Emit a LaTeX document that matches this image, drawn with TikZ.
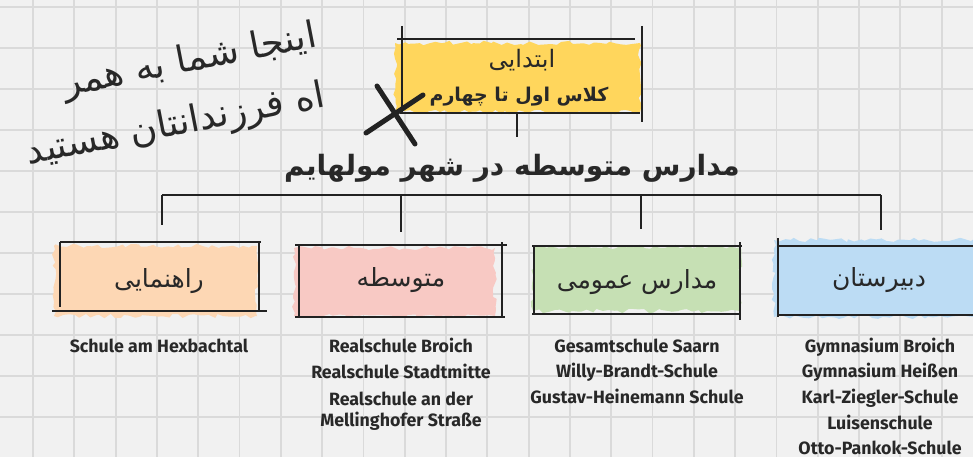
\documentclass[tikz,border=0pt]{standalone}
\usepackage{fontspec}
\usetikzlibrary{decorations.pathmorphing}
\TeXXeTstate=1
\newfontfamily\arabicfont[Script=Arabic]{DejaVu Sans}
\newfontfamily\listfont{Fira Sans}
\definecolor{bgc}{RGB}{241,241,241}
\definecolor{gridc}{RGB}{218,218,218}
\definecolor{inkc}{RGB}{34,34,34}
\definecolor{txt}{RGB}{40,40,40}
\definecolor{ylw}{RGB}{255,214,92}
\definecolor{org}{RGB}{253,215,180}
\definecolor{pnk}{RGB}{248,201,196}
\definecolor{grn}{RGB}{198,224,180}
\definecolor{blu}{RGB}{188,220,244}
\begin{document}
\begin{tikzpicture}[x=1pt,y=-1pt,
  gridline/.style={draw=gridc,line width=1.8pt},
  patch/.style={decorate,decoration={random steps,segment length=5pt,amplitude=2.2pt}},
  ink/.style={draw=inkc,line width=2pt},
  xstroke/.style={draw=inkc,line width=5pt,line cap=round},
  boxlabel/.style={font=\arabicfont\fontsize{25}{29}\selectfont,text=txt,inner sep=0pt},
  hand/.style={font=\arabicfont\fontsize{37}{40}\selectfont,text=txt,inner sep=0pt,rotate=11},
  lst/.style={font=\listfont\bfseries\fontsize{17.8}{20}\selectfont,text=txt,anchor=base,inner sep=0pt}]
\useasboundingbox (0,0) rectangle (973,457);
\fill[bgc] (0,0) rectangle (973,457);
\foreach \i in {0,...,22} \draw[gridline] ({33+41.3*\i},0) -- ({33+41.3*\i},457);
\foreach \j in {0,...,11} \draw[gridline] (0,{7+41*\j}) -- (973,{7+41*\j});
\pgfmathsetseed{7}
% patches
\fill[ylw,patch] (395,43) rectangle (640,112);
\fill[org,patch] (54,246) rectangle (257,316);
\fill[pnk,patch] (294,248) rectangle (495,316);
\fill[grn,patch] (533,247) rectangle (740,311);
\fill[blu,patch] (774,240) rectangle (980,317);
% top box frame
\draw[ink] (397,39) -- (635,39);
\draw[ink] (400,113) -- (640,113);
\draw[ink] (402,26) -- (402,114);
\draw[ink] (642,26) -- (642,122);
% X mark
\draw[xstroke] (377,86) -- (415,144);
\draw[xstroke] (366,133) -- (423,95);
% top box texts
\node[font=\arabicfont\fontsize{24}{28}\selectfont,text=txt,inner sep=0pt] (prim1) at (522,60) {\beginR ابتدایی\endR};
\node[font=\arabicfont\bfseries\fontsize{19}{22}\selectfont,text=txt,inner sep=0pt] (prim2) at (519,97) {\beginR کلاس اول تا چهارم\endR};
\coordinate (ptop) at (517,113);
\coordinate (pbot) at (517,137);
\draw[ink] (ptop) -- (pbot);
% title
\node[font=\arabicfont\bfseries\fontsize{28}{32}\selectfont,text=txt,inner sep=0pt] (title) at (512,168) {\beginR مدارس متوسطه در شهر مولهایم\endR};
% handwritten note
\node[hand] (note1) at (190,62) {\beginR اینجا شما به همر\endR};
\node[hand] (note2) at (176,126) {\beginR اه فرزندانتان هستید\endR};
% tree
\coordinate (barL) at (162,195);
\coordinate (barR) at (881,195);
\draw[ink] (barL) -- (barR);
\coordinate (t1) at (162,195); \coordinate (d1) at (162,225);
\coordinate (t2) at (401,195); \coordinate (d2) at (401,232);
\coordinate (t3) at (641,195); \coordinate (d3) at (641,229);
\coordinate (t4) at (881,195); \coordinate (d4) at (881,230);
\draw[ink] (t1) -- (d1);
\draw[ink] (t2) -- (d2);
\draw[ink] (t3) -- (d3);
\draw[ink] (t4) -- (d4);
% box frames
\draw[ink] (60,242) -- (261,242);
\draw[ink] (60,242) -- (60,307);
\draw[ink] (259,241) -- (259,311);
\draw[ink] (52,311) -- (267,311);
\draw[ink] (295,245) -- (507,245);
\draw[ink] (299,245) -- (299,318);
\draw[ink] (502,242) -- (502,318);
\draw[ink] (295,317) -- (505,317);
\draw[ink] (532,246) -- (742,246);
\draw[ink] (534,246) -- (534,315);
\draw[ink] (740,242) -- (740,320);
\draw[ink] (532,314) -- (740,314);
\draw[ink] (778,238) -- (778,317);
\draw[ink] (778,246) -- (975,246);
\draw[ink] (778,315) -- (975,315);
% box labels
\node[boxlabel] (b1) at (159,281) {\beginR راهنمایی\endR};
\node[boxlabel] (b2) at (401,280) {\beginR متوسطه\endR};
\node[boxlabel] (b3) at (637,282) {\beginR مدارس عمومی\endR};
\node[boxlabel] (b4) at (879,280) {\beginR دبیرستان\endR};
% lists
\node[lst] (l11) at (159,352) {Schule am Hexbachtal};
\node[lst] (l21) at (401,352) {Realschule Broich};
\node[lst] (l22) at (401,378) {Realschule Stadtmitte};
\node[lst] (l23) at (401,405) {Realschule an der};
\node[lst] (l24) at (401,426) {Mellinghofer Straße};
\node[lst] (l31) at (637,352) {Gesamtschule Saarn};
\node[lst] (l32) at (637,377) {Willy-Brandt-Schule};
\node[lst] (l33) at (637,403) {Gustav-Heinemann Schule};
\node[lst] (l41) at (880,352) {Gymnasium Broich};
\node[lst] (l42) at (880,377) {Gymnasium Heißen};
\node[lst] (l43) at (880,403) {Karl-Ziegler-Schule};
\node[lst] (l44) at (880,429) {Luisenschule};
\node[lst] (l45) at (880,454) {Otto-Pankok-Schule};
\end{tikzpicture}
\end{document}
